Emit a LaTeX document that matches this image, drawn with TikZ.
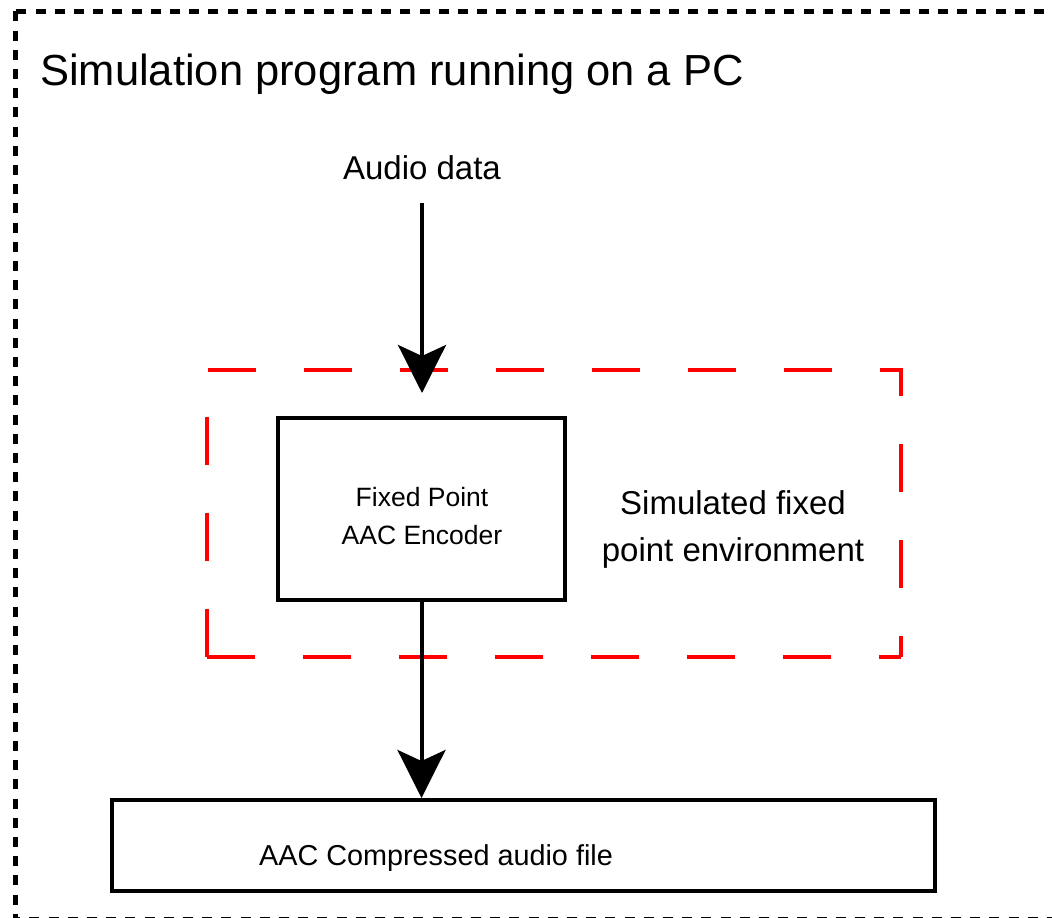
\documentclass[tikz,border=0pt]{standalone}
\usepackage{fontspec}
\setmainfont{Liberation Sans}
\usepackage{graphicx}
\usetikzlibrary{arrows.meta}
\begin{document}
\begin{tikzpicture}[x=1pt,y=-1pt,
  frame/.style={draw=black,line width=4.5pt,dash pattern=on 10pt off 9.2pt},
  envline/.style={draw=red,line width=4pt,dash pattern=on 48pt off 48pt,line join=miter},
  blk/.style={draw=black,line width=4pt,inner sep=0pt},
  flow/.style={draw=black,line width=4pt,-{Stealth[length=48pt,width=48pt,inset=11pt]}},
  lbl/.style={inner sep=0pt,anchor=base}]
\useasboundingbox (0,0) rectangle (1052,918);
\fill[white] (0,0) rectangle (1052,918);
\clip (0,0) rectangle (1052,918);
% outer frame
\draw[frame] (15.5,11.3) rectangle (1062,919);
\node[lbl,anchor=base west] (title) at (40,85) {\fontsize{43.5}{50}\selectfont Simulation program running on a PC};
% red environment box
\draw[envline] (207,657) -- (207,369.5) -- (901,369.5) -- (901,657);
\draw[envline] (207,657) -- (901,657);
\node[lbl] (env1) at (733,514) {\fontsize{33}{40}\selectfont Simulated fixed};
\node[lbl] (env2) at (733,561) {\fontsize{33}{40}\selectfont point environment};
% audio data
\node[lbl] (audio) at (422,179) {\fontsize{33}{40}\selectfont Audio data};
\coordinate (a1s) at (422,203);
\coordinate (a1e) at (422,393);
% encoder
\node[blk,minimum width=287pt,minimum height=182.5pt] (enc) at (421.5,508.75) {};
\node[lbl] (enc1) at (422,506) {\fontsize{26.5}{30}\selectfont Fixed Point};
\node[lbl] (enc2) at (422,544) {\fontsize{26.5}{30}\selectfont AAC Encoder};
% output
\node[blk,minimum width=823.5pt,minimum height=91pt] (out) at (523.25,845.5) {};
\node[lbl] (outl) at (436,865) {\fontsize{28.8}{34}\selectfont AAC Compressed audio file};
% arrows
\draw[flow] (a1s) -- (a1e);
\draw[flow] (enc.south) -- (enc.south |- out.north);
\end{tikzpicture}
\end{document}
